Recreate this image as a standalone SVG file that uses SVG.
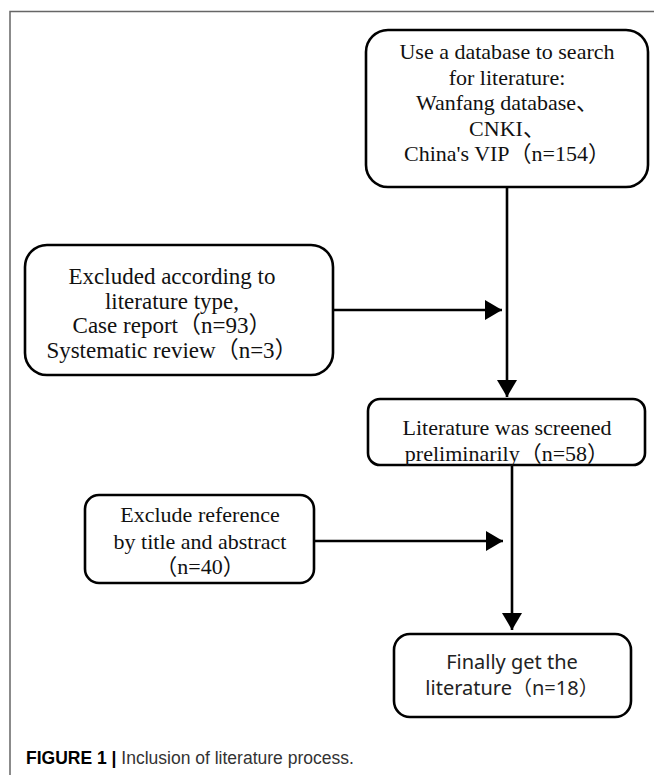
<svg xmlns="http://www.w3.org/2000/svg" width="654" height="775" viewBox="0 0 654 775">
<style>
.box{fill:#fff;stroke:#000;stroke-width:2.6}
.t{font-family:"Liberation Serif","Noto Sans CJK SC",serif;font-size:22px;fill:#111;text-anchor:middle}
.t2{font-size:23px}
.s{font-family:"Noto Sans","Noto Sans CJK SC",sans-serif;font-size:20px;fill:#222;text-anchor:middle}
.ln{stroke:#000;stroke-width:2.6;fill:none}
.cap{font-family:"Liberation Sans",Arial,sans-serif;font-size:17.5px;fill:#333}
</style>
<defs>
<marker id="ah" markerUnits="userSpaceOnUse" markerWidth="18" markerHeight="22" viewBox="0 0 18 22" refX="17" refY="11" orient="auto">
<path d="M0,1 L17,11 L0,21 Z" fill="#000"/>
</marker>
</defs>
<rect width="654" height="775" fill="#fff"/>
<g id="frame">
<path d="M10,775 V11.5 H654" fill="none" stroke="#666" stroke-width="1.5"/>
</g>
<g id="connectors">
<line class="ln" x1="507" y1="187" x2="507" y2="397" marker-end="url(#ah)"/>
<line class="ln" x1="333" y1="310" x2="502" y2="310" marker-end="url(#ah)"/>
<line class="ln" x1="512" y1="465" x2="512" y2="630" marker-end="url(#ah)"/>
<line class="ln" x1="314" y1="541" x2="503" y2="541" marker-end="url(#ah)"/>
</g>
<g id="n1">
<rect class="box" x="366" y="30" width="282" height="157" rx="22"/>
<text class="t" x="507" y="59">Use a database to search</text>
<text class="t" x="507" y="84.5">for literature:</text>
<text class="t" x="507" y="110">Wanfang database、</text>
<text class="t" x="507" y="135.5">CNKI、</text>
<text class="t" x="507" y="161">China's VIP（n=154）</text>
</g>
<g id="n2">
<rect class="box" x="25" y="245" width="308" height="130" rx="22"/>
<text class="t t2" x="172" y="284">Excluded according to</text>
<text class="t t2" x="172" y="308.5">literature type,</text>
<text class="t t2" x="172" y="333">Case report（n=93）</text>
<text class="t t2" x="172" y="357.5">Systematic review（n=3）</text>
</g>
<g id="n3">
<rect class="box" x="368" y="399" width="277" height="66" rx="12"/>
<text class="t" x="507" y="435">Literature was screened</text>
<text class="t" x="507" y="461">preliminarily（n=58）</text>
</g>
<g id="n4">
<rect class="box" x="85" y="495" width="229" height="88" rx="14"/>
<text class="t" x="200" y="522">Exclude reference</text>
<text class="t" x="200" y="548.5">by title and abstract</text>
<text class="t" x="200" y="574">（n=40）</text>
</g>
<g id="n5">
<rect class="box" x="394" y="634" width="237" height="83" rx="16"/>
<text class="s" x="512" y="669">Finally get the</text>
<text class="s" x="512" y="695">literature（n=18）</text>
</g>
<g id="caption">
<text class="cap" x="26" y="764"><tspan font-weight="bold" fill="#000">FIGURE 1 | </tspan>Inclusion of literature process.</text>
</g>
</svg>
